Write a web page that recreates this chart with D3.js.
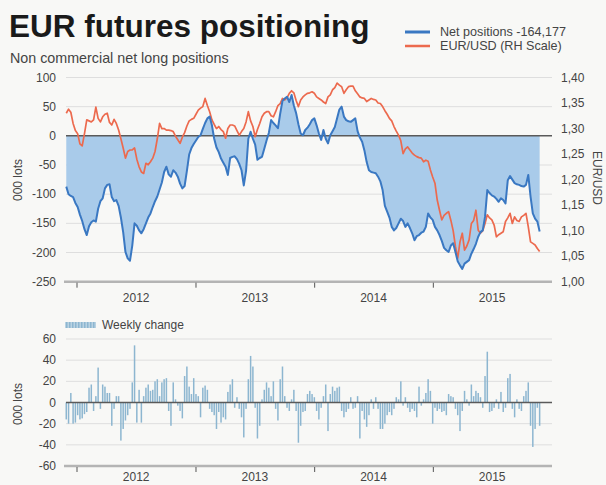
<!DOCTYPE html>
<html><head><meta charset="utf-8">
<script src="https://cdn.jsdelivr.net/npm/d3@7/dist/d3.min.js"></script>
<style>
html,body{margin:0;padding:0;background:#f8f8f6;}
svg{display:block;font-family:"Liberation Sans",Arial,sans-serif;}
</style></head>
<body>
<svg id="c" width="606" height="485"></svg>
<script>
// ---- data (weekly, starting 2011-11-29) ----
const firstWeek = "2011-11-29";
const netPositions = [
-87,-100,-103,-105,-115,-122,-135,-146,-160,-170,
-155,-148,-145,-147,-125,-112,-107,-90,-84,-83,
-105,-112,-110,-120,-140,-165,-199,-210,-214,-188,
-150,-154,-162,-167,-160,-150,-140,-133,-122,-112,
-104,-92,-80,-62,-53,-66,-70,-59,-63,-70,
-82,-90,-86,-60,-32,-21,-14,-8,-2,1,
12,22,30,33,18,-5,-20,-28,-39,-46,
-53,-67,-38,-36,-35,-40,-48,-59,-85,-60,
-5,7,-5,-15,-41,-38,-36,-22,-8,5,
27,22,18,13,38,60,64,67,58,70,
52,39,20,4,1,10,14,20,27,30,
18,4,-7,10,-5,-13,1,8,15,30,
45,50,33,27,25,24,27,30,8,-3,
-10,-25,-45,-59,-62,-63,-64,-70,-78,-93,
-120,-130,-140,-156,-162,-158,-150,-142,-146,-156,
-150,-158,-167,-179,-172,-170,-166,-164,-156,-133,
-140,-144,-156,-162,-170,-180,-192,-196,-199,-188,
-184,-199,-215,-222,-228,-219,-216,-213,-202,-194,
-185,-173,-165,-162,-139,-93,-98,-102,-104,-108,
-113,-107,-110,-116,-76,-69,-75,-81,-83,-84,
-86,-87,-84,-67,-104,-133,-142,-147,-164
];
const eurUsd = [
1.330,1.338,1.332,1.310,1.296,1.290,1.270,1.266,1.290,1.317,
1.315,1.313,1.317,1.342,1.320,1.313,1.323,1.328,1.330,1.312,
1.307,1.318,1.310,1.297,1.280,1.262,1.242,1.255,1.258,1.258,
1.262,1.240,1.225,1.215,1.212,1.232,1.229,1.235,1.242,1.255,
1.280,1.310,1.300,1.300,1.297,1.297,1.296,1.294,1.285,1.278,
1.271,1.283,1.292,1.305,1.315,1.318,1.320,1.328,1.336,1.340,
1.343,1.359,1.345,1.333,1.317,1.308,1.300,1.304,1.298,1.294,
1.281,1.300,1.307,1.307,1.305,1.296,1.287,1.294,1.300,1.313,
1.333,1.315,1.304,1.284,1.298,1.310,1.323,1.330,1.333,1.333,
1.325,1.323,1.333,1.345,1.349,1.359,1.356,1.360,1.369,1.374,
1.370,1.355,1.343,1.356,1.362,1.366,1.369,1.370,1.372,1.369,
1.362,1.359,1.356,1.352,1.349,1.362,1.366,1.376,1.380,1.389,
1.385,1.382,1.369,1.376,1.382,1.383,1.383,1.374,1.368,1.362,
1.360,1.359,1.353,1.356,1.359,1.357,1.356,1.350,1.349,1.343,
1.335,1.328,1.320,1.315,1.304,1.295,1.287,1.276,1.251,1.260,
1.264,1.258,1.252,1.248,1.245,1.243,1.242,1.235,1.238,1.236,
1.219,1.205,1.193,1.160,1.140,1.121,1.130,1.134,1.137,1.120,
1.100,1.069,1.046,1.078,1.095,1.062,1.070,1.082,1.114,1.120,
1.140,1.101,1.095,1.100,1.114,1.131,1.125,1.121,1.111,1.088,
1.092,1.095,1.098,1.118,1.125,1.134,1.114,1.127,1.120,1.118,
1.127,1.130,1.134,1.108,1.078,1.075,1.072,1.065,1.059
];
const weeklyChange = [
-16,-20,9,-20,-19,-12,-16,-15,-11,-9,
14,17,-8,6,33,-6,17,15,9,9,
-22,-6,6,6,-36,-25,-17,-12,-6,19,
54,-19,12,-19,6,14,17,11,12,20,
22,6,19,22,23,-8,-22,19,3,-3,
-8,-15,25,34,15,8,23,8,6,-14,
14,16,12,-6,-9,-12,-25,-9,-19,-14,
-16,10,17,22,-5,5,-6,-14,-33,-6,
22,44,34,-5,-34,-22,3,12,19,14,
6,20,-6,-17,22,34,6,-5,-8,3,
12,-8,-38,-22,-9,-8,8,11,8,5,
-8,-16,-5,6,17,-27,8,15,11,14,
15,-8,-14,-9,-6,5,-6,-5,6,-34,
-8,-16,-23,-12,3,-6,5,-6,-25,-25,
-20,-12,-9,-12,-6,5,3,20,-3,5,
-5,-9,-6,-8,-14,15,-3,3,9,22,
11,-20,-5,-8,-6,-9,-8,-12,8,6,
5,-6,-12,-27,-8,11,3,-3,17,6,
11,9,5,-5,25,48,-9,-8,-5,3,
-6,10,-9,-5,23,27,-6,-14,3,-6,
-8,6,11,19,-22,-42,-25,-5,-22
];
const years = [2012, 2013, 2014, 2015];
const leftTicks = [-250, -200, -150, -100, -50, 0, 50, 100];
const rightTicks = [1.00, 1.05, 1.10, 1.15, 1.20, 1.25, 1.30, 1.35, 1.40];
const changeTicks = [-60, -40, -20, 0, 20, 40, 60];
const titleText = "EUR futures positioning";
const subtitleText = "Non commercial net long positions";
const legendNet = "Net positions -164,177";
const legendEur = "EUR/USD (RH Scale)";
const legendChange = "Weekly change";

// ---- build ----
const start = d3.timeParse("%Y-%m-%d")(firstWeek);
const dates = netPositions.map((_, i) => d3.timeDay.offset(start, 7 * i));
const svg = d3.select("#c");
const fmtC = v => d3.format(".2f")(v).replace(".", ",");

const x = d3.scaleTime().domain([new Date(2012,0,1), new Date(2016,0,1)]).range([77, 552]);
const X0 = 64, X1 = 552;
const yTop = d3.scaleLinear().domain([-250, 100]).range([281.7, 77.5]);
const yEur = d3.scaleLinear().domain([1.0, 1.4]).range([281.7, 77.5]);
const yBot = d3.scaleLinear().domain([-60, 60]).range([466, 339]);

// titles
svg.append("text").attr("x", 9).attr("y", 37).attr("font-size", 31.5).attr("font-weight", "bold")
  .attr("fill", "#1a1a1a").text(titleText);
svg.append("text").attr("x", 10).attr("y", 63).attr("font-size", 14.3).attr("fill", "#444").text(subtitleText);

// legend top
const lg = svg.append("g");
lg.append("line").attr("x1", 405).attr("x2", 430).attr("y1", 32).attr("y2", 32).attr("stroke", "#3a78c2").attr("stroke-width", 3);
lg.append("line").attr("x1", 405).attr("x2", 430).attr("y1", 46).attr("y2", 46).attr("stroke", "#ec6a4e").attr("stroke-width", 2.5);
lg.append("text").attr("x", 440).attr("y", 36).attr("font-size", 12.6).attr("fill", "#444").text(legendNet);
lg.append("text").attr("x", 440).attr("y", 50).attr("font-size", 12.6).attr("fill", "#444").text(legendEur);

// ---- top chart ----
const gTop = svg.append("g");
gTop.selectAll("line.grid").data(leftTicks.filter(d => d !== 0 && d !== -250)).join("line")
  .attr("x1", X0 + 2).attr("x2", X1).attr("y1", d => yTop(d)).attr("y2", d => yTop(d))
  .attr("stroke", "#dedede").attr("stroke-width", 1);
gTop.append("path").datum(netPositions)
  .attr("d", d3.area().x((d, i) => x(dates[i])).y0(yTop(0)).y1(d => yTop(d)))
  .attr("fill", "#a9cbea");
gTop.append("line").attr("x1", X0 + 2).attr("x2", X1).attr("y1", yTop(0)).attr("y2", yTop(0))
  .attr("stroke", "#5a5a5a").attr("stroke-width", 1.5);
gTop.append("path").datum(eurUsd)
  .attr("d", d3.line().x((d, i) => x(dates[i])).y(d => yEur(d)))
  .attr("fill", "none").attr("stroke", "#ec6a4e").attr("stroke-width", 1.7).attr("stroke-linejoin", "round");
gTop.append("path").datum(netPositions)
  .attr("d", d3.line().x((d, i) => x(dates[i])).y(d => yTop(d)))
  .attr("fill", "none").attr("stroke", "#3a78c2").attr("stroke-width", 2).attr("stroke-linejoin", "round");
gTop.append("line").attr("x1", X0).attr("x2", X1).attr("y1", yTop(-250)).attr("y2", yTop(-250))
  .attr("stroke", "#b4b4b4").attr("stroke-width", 2.5);
gTop.selectAll("line.tick").data(years).join("line")
  .attr("x1", d => x(new Date(d,0,1))).attr("x2", d => x(new Date(d,0,1)))
  .attr("y1", yTop(-250) + 1).attr("y2", yTop(-250) + 6).attr("stroke", "#555");
gTop.selectAll("text.yr").data(years).join("text")
  .attr("x", d => x(new Date(d,6,1))).attr("y", 302).attr("text-anchor", "middle")
  .attr("font-size", 12).attr("fill", "#444").text(d => d);
gTop.selectAll("text.yl").data(leftTicks).join("text")
  .attr("x", 56).attr("y", d => yTop(d) + 4).attr("text-anchor", "end")
  .attr("font-size", 12).attr("fill", "#444").text(d => d);
gTop.selectAll("text.yr2").data(rightTicks).join("text")
  .attr("x", 561).attr("y", d => yEur(d) + 4).attr("text-anchor", "start")
  .attr("font-size", 12).attr("fill", "#444").text(d => fmtC(d));
gTop.append("text").attr("transform", "translate(22,180) rotate(-90)").attr("text-anchor", "middle")
  .attr("font-size", 12).attr("fill", "#444").text("000 lots");
gTop.append("text").attr("transform", "translate(593,178) rotate(90)").attr("text-anchor", "middle")
  .attr("font-size", 12).attr("fill", "#444").text("EUR/USD");

// ---- bottom chart ----
const gBot = svg.append("g");
gBot.selectAll("line.grid").data(changeTicks.filter(d => d !== 0 && d !== -60)).join("line")
  .attr("x1", X0 + 2).attr("x2", X1).attr("y1", d => yBot(d)).attr("y2", d => yBot(d))
  .attr("stroke", "#dedede").attr("stroke-width", 1);
gBot.selectAll("rect.bar").data(weeklyChange).join("rect")
  .attr("x", (d, i) => x(dates[i]) - 0.75).attr("width", 1.5)
  .attr("y", d => Math.min(yBot(d), yBot(0))).attr("height", d => Math.abs(yBot(d) - yBot(0)))
  .attr("fill", "#8db6d0");
gBot.append("line").attr("x1", X0 + 2).attr("x2", X1).attr("y1", yBot(0)).attr("y2", yBot(0))
  .attr("stroke", "#5a5a5a").attr("stroke-width", 1.5);
gBot.append("line").attr("x1", X0).attr("x2", X1).attr("y1", yBot(-60)).attr("y2", yBot(-60))
  .attr("stroke", "#b4b4b4").attr("stroke-width", 2.5);
gBot.selectAll("line.tick").data(years).join("line")
  .attr("x1", d => x(new Date(d,0,1))).attr("x2", d => x(new Date(d,0,1)))
  .attr("y1", yBot(-60) + 1).attr("y2", yBot(-60) + 6).attr("stroke", "#555");
gBot.selectAll("text.yr").data(years).join("text")
  .attr("x", d => x(new Date(d,6,1))).attr("y", 481).attr("text-anchor", "middle")
  .attr("font-size", 12).attr("fill", "#444").text(d => d);
gBot.selectAll("text.yl").data(changeTicks).join("text")
  .attr("x", 56).attr("y", d => yBot(d) + 4).attr("text-anchor", "end")
  .attr("font-size", 12).attr("fill", "#444").text(d => d);
gBot.append("text").attr("transform", "translate(22,404) rotate(-90)").attr("text-anchor", "middle")
  .attr("font-size", 12).attr("fill", "#444").text("000 lots");
const pat = svg.append("defs").append("pattern").attr("id", "hatch").attr("width", 3).attr("height", 6)
  .attr("patternUnits", "userSpaceOnUse");
pat.append("rect").attr("width", 3).attr("height", 6).attr("fill", "#b9d2e2");
pat.append("rect").attr("width", 1.5).attr("height", 6).attr("fill", "#8db6d0");
gBot.append("rect").attr("x", 65).attr("y", 322).attr("width", 31).attr("height", 6).attr("fill", "url(#hatch)");
gBot.append("text").attr("x", 102).attr("y", 329).attr("font-size", 12).attr("fill", "#444").text(legendChange);
</script>
</body></html>
